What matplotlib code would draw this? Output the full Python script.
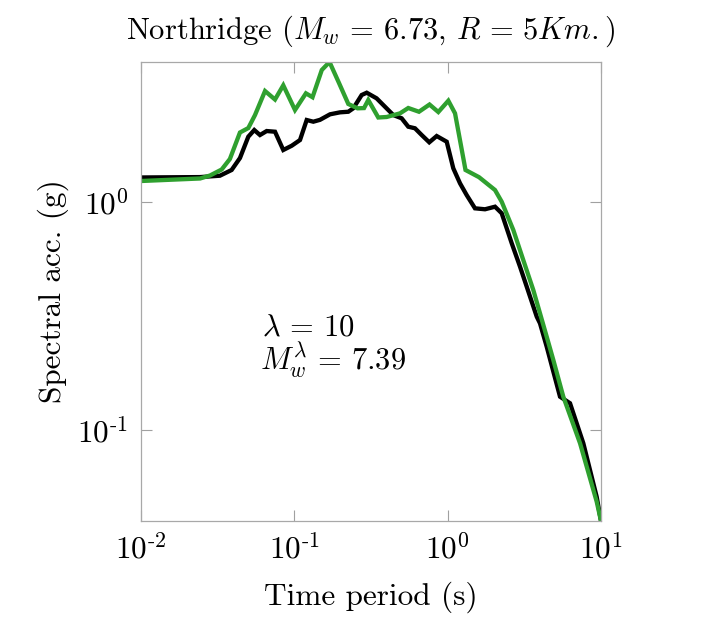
import matplotlib
matplotlib.use("Agg")
import matplotlib.pyplot as plt
from matplotlib.ticker import FixedLocator, FixedFormatter, NullLocator

plt.rcParams['font.family'] = ['cmr10', 'DejaVu Serif']
plt.rcParams['mathtext.fontset'] = 'cm'
plt.rcParams['axes.formatter.use_mathtext'] = True

# Original record spectrum (black)
period_black = [0.01, 0.0243, 0.0327, 0.039, 0.0442, 0.0501, 0.0548, 0.0597, 0.066, 0.0748,
                0.0847, 0.0962, 0.1089, 0.1204, 0.133, 0.147, 0.1709, 0.1986, 0.2249, 0.2424,
                0.2748, 0.2965, 0.344, 0.39, 0.442, 0.501, 0.5534, 0.612, 0.677, 0.7586,
                0.848, 0.9856, 1.088, 1.204, 1.33, 1.507, 1.752, 2.036, 2.251, 2.617,
                2.964, 3.278, 3.81, 4.0, 4.425, 5.404, 6.28, 7.67, 9.37, 10.0]
acc_black = [1.285, 1.29, 1.308, 1.386, 1.564, 1.94, 2.075, 1.973, 2.054, 2.04,
             1.696, 1.771, 1.876, 2.296, 2.257, 2.30, 2.432, 2.481, 2.496, 2.584,
             2.955, 3.025, 2.858, 2.626, 2.414, 2.336, 2.146, 2.112, 1.973, 1.833,
             1.953, 1.844, 1.41, 1.211, 1.076, 0.941, 0.932, 0.9565, 0.895, 0.661,
             0.522, 0.4265, 0.315, 0.2946, 0.2326, 0.1404, 0.1314, 0.0877, 0.0511, 0.04]

# Scaled spectrum (green)
period_green = [0.01, 0.0243, 0.0282, 0.0336, 0.038, 0.0442, 0.0501, 0.0554, 0.0644, 0.0748,
                0.0847, 0.101, 0.119, 0.1314, 0.151, 0.1696, 0.1956, 0.2249, 0.2582, 0.2848,
                0.3036, 0.3528, 0.40, 0.4889, 0.5534, 0.650, 0.7614, 0.869, 1.01, 1.117,
                1.307, 1.601, 2.036, 2.251, 2.68, 3.113, 3.618, 4.425, 4.887, 5.677,
                7.3, 9.37, 10.0]
acc_green = [1.24, 1.272, 1.311, 1.393, 1.549, 2.024, 2.117, 2.414, 3.077, 2.824,
             3.26, 2.54, 3.006, 2.89, 3.804, 4.125, 3.336, 2.70, 2.584, 2.59,
             2.81, 2.355, 2.367, 2.456, 2.592, 2.496, 2.685, 2.489, 2.79, 2.456,
             1.386, 1.289, 1.132, 1.006, 0.756, 0.558, 0.4124, 0.2573, 0.2034, 0.1404,
             0.0877, 0.0487, 0.04]

x_ticks = [0.01, 0.1, 1, 10]
x_ticklabels = [r"$10^{\text{-}2}$", r"$10^{\text{-}1}$", r"$10^{0}$", r"$10^{1}$"]
y_ticks = [0.1, 1]
y_ticklabels = [r"$10^{\text{-}1}$", r"$10^{0}$"]

title = r"Northridge ($M_w\,=\,6.73,\,R\,=\,5Km.$)"
xlabel = "Time period (s)"
ylabel = "Spectral acc. (g)"
note1 = r"$\lambda\,=\,10$"
note2 = r"$M_w^\lambda\,=\,7.39$"

fig = plt.figure(figsize=(7.06, 6.19), dpi=100)
ax = fig.add_axes([141/706, 1 - 521/619, 460/706, 459/619])

ax.plot(period_black, acc_black, color='black', lw=3.1, solid_joinstyle='miter')
ax.plot(period_green, acc_green, color='#2fa02f', lw=3.1, solid_joinstyle='miter')

ax.set_xscale('log')
ax.set_yscale('log')
ax.set_xlim(0.01, 10)
ymin = min(min(acc_black), min(acc_green))
ymax = max(max(acc_black), max(acc_green))
ax.set_ylim(ymin, ymax)

ax.xaxis.set_major_locator(FixedLocator(x_ticks))
ax.xaxis.set_major_formatter(FixedFormatter(x_ticklabels))
ax.yaxis.set_major_locator(FixedLocator(y_ticks))
ax.yaxis.set_major_formatter(FixedFormatter(y_ticklabels))
ax.xaxis.set_minor_locator(NullLocator())
ax.yaxis.set_minor_locator(NullLocator())
ax.tick_params(which='major', direction='in', length=8, width=0.8, color='#a0a0a0',
               top=True, right=True, labelsize=22.5, pad=9)
for s in ax.spines.values():
    s.set_color('#a8a8a8')
    s.set_linewidth(0.9)

ax.set_title(title, fontsize=22, pad=16.5)
ax.set_xlabel(xlabel, fontsize=22.5, labelpad=12)
ax.set_ylabel(ylabel, fontsize=22.5, labelpad=6)

ax.text(0.262, 0.405, note1, transform=ax.transAxes, fontsize=22, va='baseline', ha='left')
ax.text(0.258, 0.329, note2, transform=ax.transAxes, fontsize=22, va='baseline', ha='left')

fig.savefig('out.png', dpi=100)
